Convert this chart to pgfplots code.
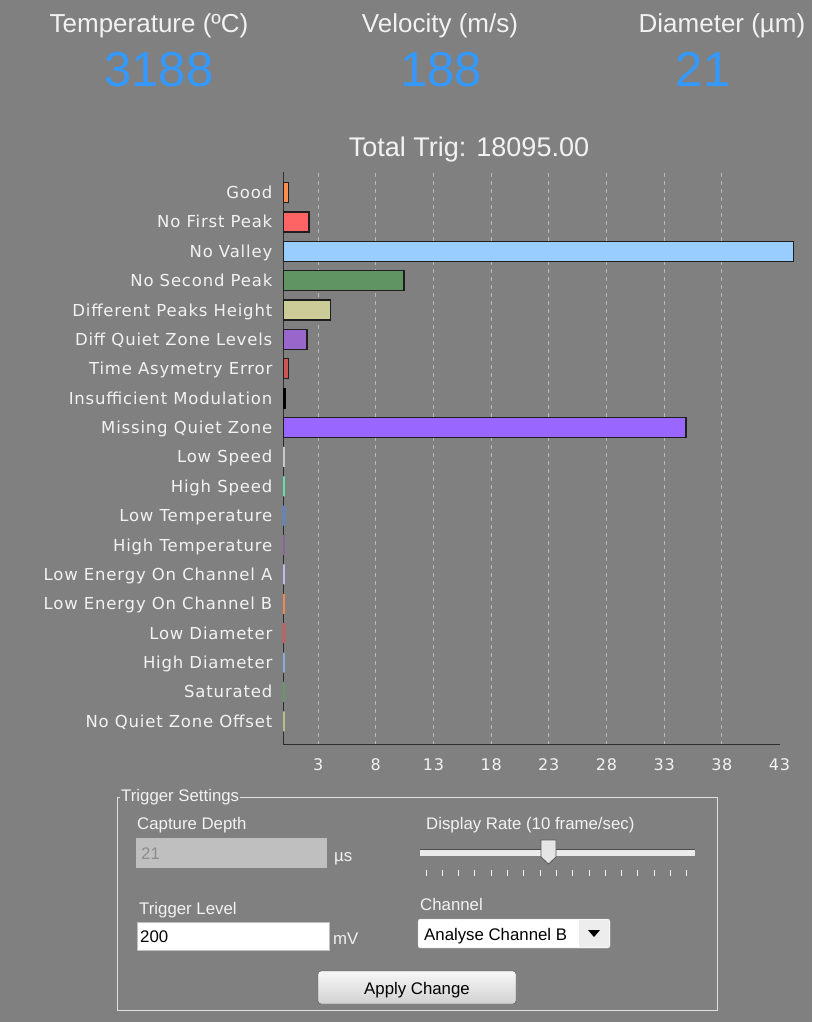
\documentclass[border=0pt]{standalone}
\usepackage{fontspec}
\setmainfont{Liberation Sans}
\newfontfamily\dv{DejaVu Sans}[LetterSpace=5]
\usepackage{pgfplots}
\pgfplotsset{compat=1.18}
\definecolor{bg}{RGB}{128,128,128}
\definecolor{txt}{RGB}{242,242,242}
\definecolor{blu}{RGB}{51,153,255}
\definecolor{edge}{RGB}{30,30,30}
\definecolor{axc}{RGB}{45,45,45}
\definecolor{gridc}{RGB}{185,185,185}
\definecolor{cGood}{RGB}{255,140,80}
\definecolor{cNFP}{RGB}{255,100,100}
\definecolor{cNV}{RGB}{153,204,255}
\definecolor{cNSP}{RGB}{96,148,98}
\definecolor{cDPH}{RGB}{204,204,153}
\definecolor{cDQZ}{RGB}{153,102,204}
\definecolor{cTAE}{RGB}{204,85,85}
\definecolor{cIM}{RGB}{0,0,0}
\definecolor{cMQZ}{RGB}{153,102,255}
\definecolor{cLS}{RGB}{200,200,200}
\definecolor{cHS}{RGB}{102,221,170}
\definecolor{cLT}{RGB}{85,136,221}
\definecolor{cHT}{RGB}{136,102,153}
\definecolor{cLEA}{RGB}{187,187,238}
\definecolor{cLEB}{RGB}{238,136,85}
\definecolor{cLD}{RGB}{221,85,85}
\definecolor{cHD}{RGB}{136,170,221}
\definecolor{cSat}{RGB}{102,153,102}
\definecolor{cNQO}{RGB}{187,187,136}
\definecolor{boxc}{RGB}{225,225,225}
\definecolor{tbox}{RGB}{191,191,191}
\definecolor{gtx}{RGB}{140,140,140}
\newcommand\hdr{\fontsize{26}{31}\selectfont}
\newcommand\bignum{\fontsize{49}{55}\selectfont}
\newcommand\ttl{\fontsize{27}{32}\selectfont}
\newcommand\pnl{\fontsize{16.8}{20}\selectfont}
\begin{document}
\begin{tikzpicture}[x=1pt,y=-1pt]
\path[use as bounding box] (0,0) rectangle (812,1022);
\fill[bg] (0,0) rectangle (812,1022);
% header
\node[anchor=base, text=txt, font=\hdr] at (149,33) {Temperature (ºC)};
\node[anchor=base, text=txt, font=\hdr] at (440,33) {Velocity (m/s)};
\node[anchor=base, text=txt, font=\hdr] at (722,33) {Diameter (µm)};
\node[anchor=base, text=blu, font=\bignum] at (159,87) {3188};
\node[anchor=base, text=blu, font=\bignum] at (441,87) {188};
\node[anchor=base, text=blu, font=\bignum] at (703,87) {21};
\node[anchor=base, text=txt, font=\ttl] at (469,156) {Total Trig: 18095.00};
% chart
\begin{axis}[
  at={(283.5pt,-744.5pt)}, anchor=south west,
  width=496pt, height=572.8pt, scale only axis,
  xmin=0, xmax=43, ymin=-0.79, ymax=18.71,
  clip=false,
  xbar, bar width=0.68, bar shift=0pt,
  axis lines=left,
  axis line style={-, draw=axc, line width=1.6pt},
  xtick={3,8,...,38},
  extra x ticks={43},
  extra x tick style={grid=none},
  xmajorgrids,
  grid style={draw=gridc, line width=1pt, dash pattern=on 4pt off 4pt},
  major tick length=0pt,
  ytick={0,...,18},
  yticklabels={No Quiet Zone Offset,Saturated,High Diameter,Low Diameter,Low Energy On Channel B,Low Energy On Channel A,High Temperature,Low Temperature,High Speed,Low Speed,Missing Quiet Zone,Insufficient Modulation,Time Asymetry Error,Diff Quiet Zone Levels,Different Peaks Height,No Second Peak,No Valley,No First Peak,Good},
  /pgf/number format/assume math mode=true,
  xticklabel style={font=\dv\fontsize{16}{19}\selectfont, text=txt, inner sep=0pt, anchor=north, yshift=-14pt},
  yticklabel style={font=\dv\fontsize{16.5}{20}\selectfont, text=txt, anchor=base east, inner sep=0pt, xshift=-11pt, yshift=-6pt},
]
\addplot[fill=cGood, draw=edge, line width=1.3pt] coordinates {(0.45,18)};
\addplot[fill=cNFP, draw=edge, line width=1.3pt] coordinates {(2.2,17)};
\addplot[fill=cNV, draw=edge, line width=1.3pt] coordinates {(44.2,16)};
\addplot[fill=cNSP, draw=edge, line width=1.3pt] coordinates {(10.45,15)};
\addplot[fill=cDPH, draw=edge, line width=1.3pt] coordinates {(4.1,14)};
\addplot[fill=cDQZ, draw=edge, line width=1.3pt] coordinates {(2.05,13)};
\addplot[fill=cTAE, draw=edge, line width=1.3pt] coordinates {(0.45,12)};
\addplot[fill=cIM, draw=cIM, line width=1.3pt] coordinates {(0.2,11)};
\addplot[fill=cMQZ, draw=edge, line width=1.3pt] coordinates {(34.9,10)};
\addplot[draw=cLS, line width=2pt] coordinates {(0,9)};
\addplot[draw=cHS, line width=2pt] coordinates {(0,8)};
\addplot[draw=cLT, line width=2pt] coordinates {(0,7)};
\addplot[draw=cHT, line width=2pt] coordinates {(0,6)};
\addplot[draw=cLEA, line width=2pt] coordinates {(0,5)};
\addplot[draw=cLEB, line width=2pt] coordinates {(0,4)};
\addplot[draw=cLD, line width=2pt] coordinates {(0,3)};
\addplot[draw=cHD, line width=2pt] coordinates {(0,2)};
\addplot[draw=cSat, line width=2pt] coordinates {(0,1)};
\addplot[draw=cNQO, line width=2pt] coordinates {(0,0)};
\end{axis}
% trigger settings panel
\draw[draw=boxc, line width=1pt] (117,797) rectangle (717,1010);
\node[anchor=west, fill=bg, inner xsep=1pt, inner ysep=0pt, text=txt, font=\pnl] at (120,797) {Trigger Settings};
\node[anchor=base west, text=txt, font=\pnl, inner sep=0pt] at (137,829) {Capture Depth};
\fill[tbox] (136,838) rectangle (327,868);
\node[anchor=base west, text=gtx, font=\pnl, inner sep=0pt] at (141,859) {21};
\node[anchor=base west, text=txt, font=\pnl, inner sep=0pt] at (334,861) {µs};
\node[anchor=base west, text=txt, font=\pnl, inner sep=0pt] at (426,829) {Display Rate (10 frame/sec)};
\fill[white!92!black] (420,849) rectangle (695,856);
\draw[gray!60!black, line width=0.6pt] (420,849) -- (695,849);
\foreach \t in {0,...,16} {\draw[txt, line width=1pt] ({426+\t*16.3},870) -- ({426+\t*16.3},876);}
\filldraw[fill=white!90!black, draw=gray!70!black, line width=0.8pt] (541,840) -- (556,840) -- (556,857) -- (548.5,864) -- (541,857) -- cycle;
\node[anchor=base west, text=txt, font=\pnl, inner sep=0pt] at (139,914) {Trigger Level};
\filldraw[fill=white, draw=gray!50] (137,922) rectangle (329,950);
\node[anchor=base west, text=black, font=\pnl, inner sep=0pt] at (140,942) {200};
\node[anchor=base west, text=txt, font=\pnl, inner sep=0pt] at (333,944) {mV};
\node[anchor=base west, text=txt, font=\pnl, inner sep=0pt] at (420,910) {Channel};
\filldraw[fill=white, draw=gray!50, rounded corners=2pt] (418,919) rectangle (610,948);
\fill[white!93!black] (579,920) rectangle (609,947);
\fill[black] (588,930) -- (600,930) -- (594,937) -- cycle;
\node[anchor=base west, text=black, font=\pnl, inner sep=0pt] at (424,940) {Analyse Channel B};
\shade[top color=white!97!black, bottom color=white!82!black, rounded corners=3pt] (318,971) rectangle (516,1004);
\draw[gray!60!black, rounded corners=3pt] (318,971) rectangle (516,1004);
\node[anchor=base, text=black, font=\pnl, inner sep=0pt] at (417,994) {Apply Change};
\end{tikzpicture}
\end{document}
